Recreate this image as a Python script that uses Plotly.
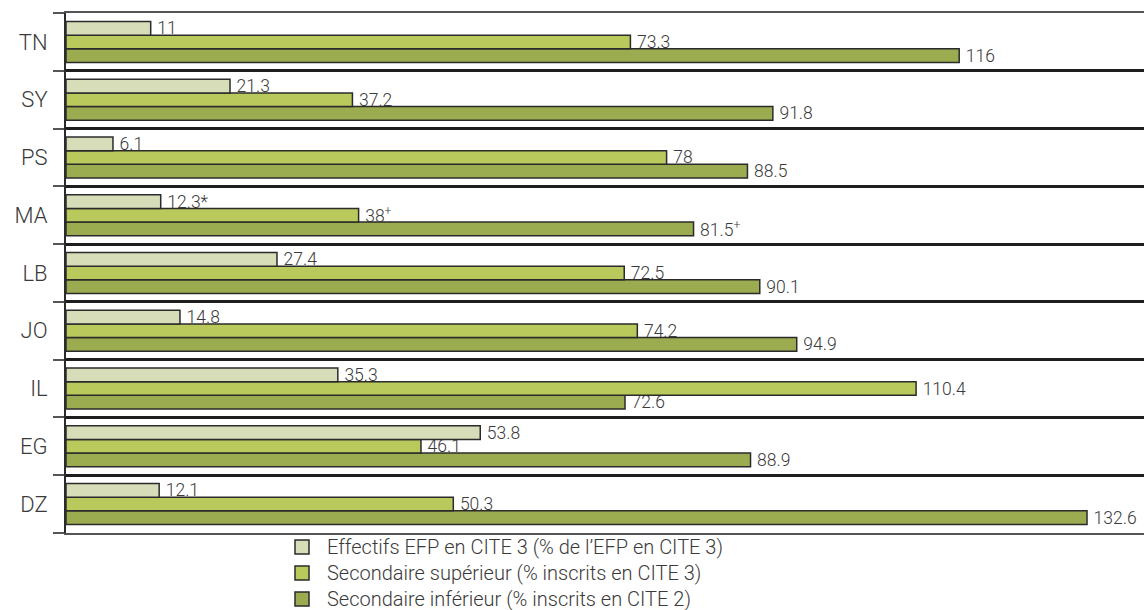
import plotly.graph_objects as go

# Country codes, bottom to top
countries = ["DZ", "EG", "IL", "JO", "LB", "MA", "PS", "SY", "TN"]

# Effectifs EFP en CITE 3 (% de l'EFP en CITE 3)
efp_cite3 = [12.1, 53.8, 35.3, 14.8, 27.4, 12.3, 6.1, 21.3, 11]
efp_note = ["", "", "", "", "", "*", "", "", ""]

# Secondaire supérieur (% inscrits en CITE 3)
sec_sup = [50.3, 46.1, 110.4, 74.2, 72.5, 38, 78, 37.2, 73.3]
sup_note = ["", "", "", "", "", "<sup>+</sup>", "", "", ""]

# Secondaire inférieur (% inscrits en CITE 2)
sec_inf = [132.6, 88.9, 72.6, 94.9, 90.1, 81.5, 88.5, 91.8, 116]
inf_note = ["", "", "", "", "", "<sup>+</sup>", "", "", ""]

FONT = "Roboto, 'Liberation Sans', Arial, sans-serif"
TXT = "#3a3a3a"
EDGE = "#2b2b2b"

W, H = 1144, 610
ML, MR, MT, MB = 66, 0, 13, 77
PLOT_W = W - ML - MR
PLOT_H = H - MT - MB


def labels(values, notes):
    # thin space keeps the value clear of the bar end
    return [f"\u2009{v:g}{n}" for v, n in zip(values, notes)]


# Traces listed bottom-to-top inside each group (horizontal grouped bars)
series = [
    ("Secondaire inférieur (% inscrits en CITE 2)", sec_inf, inf_note, "#9bab50"),
    ("Secondaire supérieur (% inscrits en CITE 3)", sec_sup, sup_note, "#b9c95c"),
    ("Effectifs EFP en CITE 3 (% de l’EFP en CITE 3)", efp_cite3, efp_note, "#d6ddb8"),
]

fig = go.Figure()
for name, vals, notes, color in series:
    fig.add_trace(go.Bar(
        y=countries,
        x=vals,
        orientation="h",
        name=name,
        marker=dict(color=color, line=dict(color=EDGE, width=1.5)),
        text=labels(vals, notes),
        textposition="outside",
        textfont=dict(family=FONT, size=17.5, color=TXT, weight=300),
        constraintext="none",
        cliponaxis=False,
        hoverinfo="skip",
        showlegend=False,
    ))

# Compact key under the plot: one caption block, one swatch per line
KEY_FONT = 20
KEY_LINE = KEY_FONT * 1.3          # plotly's line height for multi-line text
KEY_SWATCH_X = 295                 # px from the left edge of the page
KEY_TEXT_X = 325
KEY_CENTER_Y = 573                 # px from the top of the page
SWATCH = 14

key_items = list(reversed(series))  # top line = first series in reading order


def px_x(px):
    return (px - ML) / PLOT_W


def px_y(py):
    return (H - MB - py) / PLOT_H


shapes = []
n = len(key_items)
for i, (_name, _vals, _notes, color) in enumerate(key_items):
    cy = KEY_CENTER_Y + (i - (n - 1) / 2) * KEY_LINE
    shapes.append(dict(
        type="rect", xref="paper", yref="paper",
        x0=px_x(KEY_SWATCH_X), x1=px_x(KEY_SWATCH_X + SWATCH),
        y0=px_y(cy - SWATCH / 2), y1=px_y(cy + SWATCH / 2),
        fillcolor=color, line=dict(color=EDGE, width=1.5),
    ))

annotations = [dict(
    xref="paper", yref="paper",
    x=px_x(KEY_TEXT_X), y=px_y(KEY_CENTER_Y),
    xanchor="left", yanchor="middle", align="left",
    text="<br>".join(item[0] for item in key_items),
    showarrow=False,
    font=dict(family=FONT, size=KEY_FONT, color=TXT, weight=300),
)]

fig.update_layout(
    width=W,
    height=H,
    margin=dict(l=ML, r=MR, t=MT, b=MB, autoexpand=False),
    paper_bgcolor="white",
    plot_bgcolor="white",
    barmode="group",
    bargap=0.29,
    bargroupgap=0,
    font=dict(family=FONT, color=TXT),
    showlegend=False,
    shapes=shapes,
    annotations=annotations,
    xaxis=dict(
        range=[0, 140],
        showticklabels=False,
        showgrid=False,
        zeroline=False,
        showline=True,
        mirror=True,
        linecolor="#555555",
        linewidth=1.5,
        ticks="",
        fixedrange=True,
    ),
    yaxis=dict(
        type="category",
        categoryorder="array",
        categoryarray=countries,
        range=[-0.502, 8.502],
        tickson="boundaries",
        ticks="outside",
        ticklen=11,
        tickwidth=1.5,
        tickcolor="#555555",
        ticklabelstandoff=12,
        showgrid=True,
        gridcolor="#1e1e1e",
        gridwidth=2.5,
        showline=True,
        linecolor="#2b2b2b",
        linewidth=2,
        tickfont=dict(family=FONT, size=22, color=TXT, weight=300),
        fixedrange=True,
    ),
)

fig.write_html("out.html")
